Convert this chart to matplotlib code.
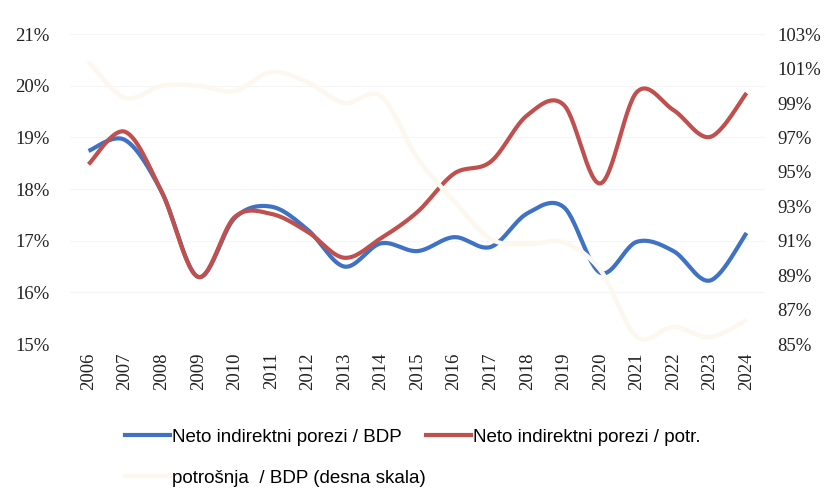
import numpy as np
import matplotlib.pyplot as plt
from matplotlib.lines import Line2D
from matplotlib.ticker import FuncFormatter

years = list(range(2006, 2025))
# neto indirektni porezi / BDP (%)
nip_bdp = [18.74, 18.95, 17.95, 16.30, 17.44, 17.66, 17.21, 16.50, 16.95, 16.80,
           17.07, 16.88, 17.53, 17.65, 16.38, 16.98, 16.80, 16.23, 17.15]
# neto indirektni porezi / potrosnja (%)
nip_potr = [18.48, 19.11, 17.95, 16.30, 17.46, 17.52, 17.17, 16.67, 17.05, 17.56,
            18.30, 18.53, 19.43, 19.63, 18.11, 19.88, 19.53, 19.01, 19.86]
# potrosnja / BDP (%), desna skala
potr_bdp = [101.4, 99.3, 100.0, 100.0, 99.7, 100.8, 100.2, 99.0, 99.4, 95.8,
            93.3, 91.1, 90.8, 90.9, 89.3, 85.4, 86.0, 85.4, 86.4]

blue = '#3f72c4'
red = '#c0504d'
cream = '#fcf8ef'


def smooth(y, n=30):
    # excel-like smoothed line (bezier through every point)
    y = np.asarray(y, float)
    x = np.arange(len(y), dtype=float)
    xs, ys = [], []
    for i in range(len(y) - 1):
        i0, i3 = max(i - 1, 0), min(i + 2, len(y) - 1)
        p0 = np.array([x[i], y[i]])
        p3 = np.array([x[i + 1], y[i + 1]])
        c1 = p0 + (np.array([x[i + 1], y[i + 1]]) - np.array([x[i0], y[i0]])) / 6
        c2 = p3 - (np.array([x[i3], y[i3]]) - np.array([x[i], y[i]])) / 6
        t = np.linspace(0, 1, n)[:, None]
        b = (1 - t)**3 * p0 + 3 * (1 - t)**2 * t * c1 + 3 * (1 - t) * t**2 * c2 + t**3 * p3
        xs.append(b[:, 0]); ys.append(b[:, 1])
    return np.concatenate(xs), np.concatenate(ys)


fig = plt.figure(figsize=(8.26, 4.88), dpi=100)
ax = fig.add_axes([0.085, 0.295, 0.841, 0.635])
ax2 = ax.twinx()

for v in np.arange(15, 22, 1):
    ax.axhline(v, color='#f5f5f5', lw=0.8, zorder=0)

xb, yb = smooth(nip_bdp)
xr, yr = smooth(nip_potr)
ax.plot(xb, yb, color=blue, lw=3, solid_capstyle='butt')
ax.plot(xr, yr, color=red, lw=3, solid_capstyle='butt')
xc, yc = smooth(potr_bdp)
ax2.plot(xc, yc, color=cream, lw=3.2, solid_capstyle='butt')

ax.set_xlim(-0.5, len(years) - 0.5)
ax.set_ylim(15, 21)
ax2.set_ylim(85, 103)
ax.set_yticks(range(15, 22))
ax2.set_yticks(range(85, 104, 2))
pct = FuncFormatter(lambda v, p: '%d%%' % v)
ax.yaxis.set_major_formatter(pct)
ax2.yaxis.set_major_formatter(pct)
ax.set_xticks(range(len(years)))
ax.set_xticklabels([str(y) for y in years], rotation=90)

for a in (ax, ax2):
    for s in a.spines.values():
        s.set_visible(False)
    a.tick_params(length=0, labelsize=13.5, colors='#222222')
    for lab in a.get_yticklabels() + a.get_xticklabels():
        lab.set_family('Liberation Serif')
ax.tick_params(axis='y', pad=15)
ax2.tick_params(axis='y', pad=9)
ax.tick_params(axis='x', pad=6)

# legend: two rows, drawn as two figure legends
leg_font = {'family': ['Liberation Sans Narrow', 'Liberation Sans'], 'size': 13.5}
leg_kw = dict(loc='center left', frameon=False, handlelength=2.4, handletextpad=0.1,
              borderpad=0, borderaxespad=0, prop=leg_font)
fig.legend([Line2D([], [], color=blue, lw=3), Line2D([], [], color=red, lw=3)],
           ['Neto indirektni porezi / BDP', 'Neto indirektni porezi / potr.'],
           ncol=2, columnspacing=1.3, bbox_to_anchor=(125 / 826, 1 - 437 / 488), **leg_kw)
fig.legend([Line2D([], [], color=cream, lw=3)], ['potrošnja  / BDP (desna skala)'],
           bbox_to_anchor=(125 / 826, 1 - 478 / 488), **leg_kw)

fig.savefig('out.png', dpi=100)
